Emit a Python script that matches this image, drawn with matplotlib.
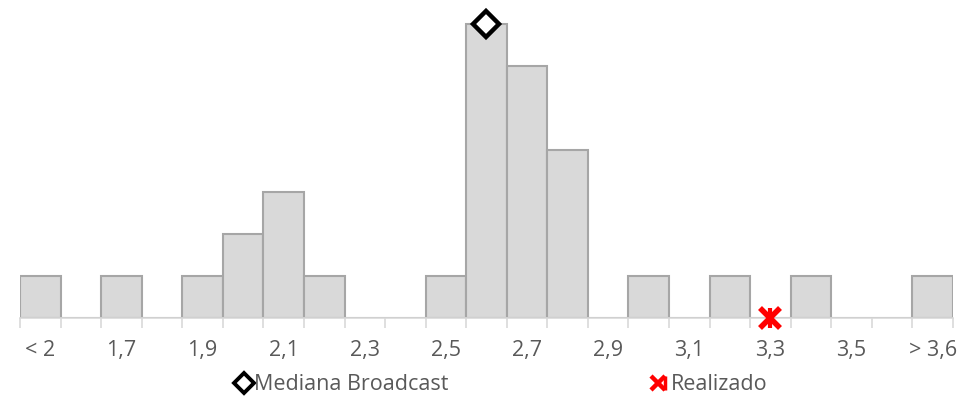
import matplotlib
matplotlib.use("Agg")
import matplotlib.pyplot as plt
from matplotlib.lines import Line2D
from matplotlib.legend_handler import HandlerTuple
import numpy as np

plt.rcParams['font.family'] = ['Open Sans', 'DejaVu Sans']

# categories (bins of 0.1), only every other one gets a label on the axis
labels = ["< 2", "1,6", "1,7", "1,8", "1,9", "2,0", "2,1", "2,2", "2,3", "2,4",
          "2,5", "2,6", "2,7", "2,8", "2,9", "3,0", "3,1", "3,2", "3,3", "3,4",
          "3,5", "3,6", "> 3,6"]
counts = [1, 0, 1, 0, 1, 2, 3, 1, 0, 0, 1, 7, 6, 4, 0, 1, 0, 1, 0, 1, 0, 0, 1]

mediana_cat = "2,6"
mediana_val = 7
realizado_cat = "3,3"
realizado_val = 0

TXT = '#595959'
AXC = '#d9d9d9'

fig = plt.figure(figsize=(9.64, 4.01), dpi=100)
W, H = 964, 401
x0, x1 = 20, 953
ybase = 317.5
unit = 42.0
ytop = 7.25
ax = fig.add_axes([x0 / W, (H - ybase) / H, (x1 - x0) / W, unit * ytop / H])

x = np.arange(len(labels))
ax.bar(x, counts, width=1.0, color='#d9d9d9', edgecolor='#a6a6a6', linewidth=1.5, zorder=2)

ax.set_xlim(-0.5, len(labels) - 0.5)
ax.set_ylim(0, ytop)

for s in ['top', 'right', 'left']:
    ax.spines[s].set_visible(False)
ax.spines['bottom'].set_color(AXC)
ax.spines['bottom'].set_linewidth(1.2)
ax.set_yticks([])

ax.set_xticks(x[::2])
ax.set_xticklabels(labels[::2], color=TXT, fontsize=15.5)
ax.tick_params(axis='x', which='major', length=0, pad=16)
ax.set_xticks(np.arange(-0.5, len(labels)), minor=True)
ax.tick_params(axis='x', which='minor', length=7, color=AXC, width=1.2)

mi = labels.index(mediana_cat)
ri = labels.index(realizado_cat)
ax.plot([mi], [mediana_val], marker='D', markersize=13, markerfacecolor='white',
        markeredgecolor='black', markeredgewidth=3.2, linestyle='none', zorder=5,
        clip_on=False)
ax.plot([ri], [realizado_val], marker='x', markersize=14, color='#ff0000',
        markeredgewidth=4, linestyle='none', zorder=5, clip_on=False)
ax.plot([ri], [realizado_val], marker='|', markersize=14, color='#ff0000',
        markeredgewidth=3.0, linestyle='none', zorder=5, clip_on=False)

h1 = Line2D([], [], marker='D', markersize=10, markerfacecolor='white',
            markeredgecolor='black', markeredgewidth=2.8, linestyle='none')
h2a = Line2D([], [], marker='x', markersize=10, color='#ff0000',
             markeredgewidth=3.2, linestyle='none')
h2b = Line2D([], [], marker='|', markersize=10, color='#ff0000',
             markeredgewidth=2.5, linestyle='none')
fig.legend([h1, (h2a, h2b)], ["Mediana Broadcast", "Realizado"],
           handler_map={tuple: HandlerTuple(ndivide=None, pad=0)},
           loc='center', bbox_to_anchor=(503 / W, 1 - 385 / H), ncol=2,
           frameon=False, fontsize=15.5, labelcolor=TXT,
           handlelength=0.6, handletextpad=0.15, columnspacing=9.6)

fig.savefig("out.png", dpi=100)
